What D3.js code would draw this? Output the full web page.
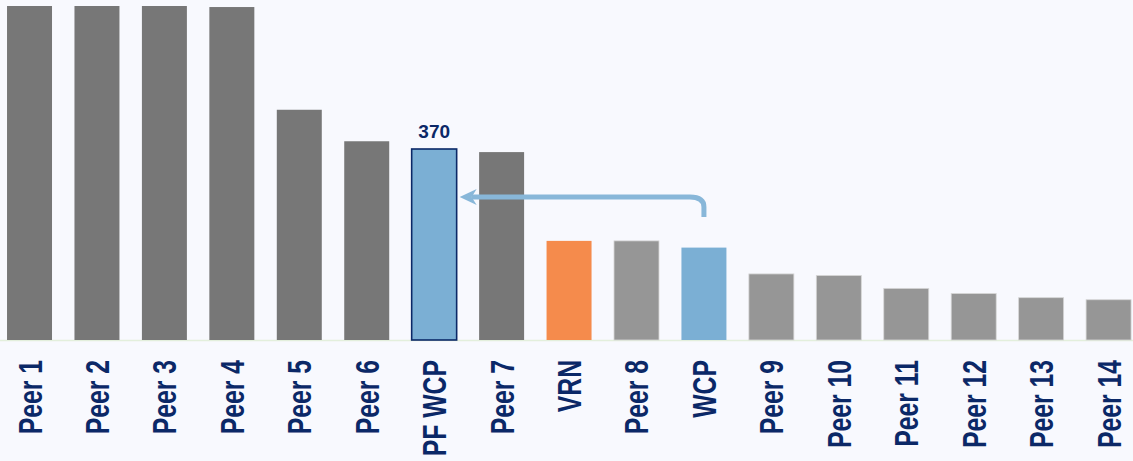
<!DOCTYPE html>
<html lang="en">
<head>
    <meta charset="UTF-8">
    <script src="https://d3js.org/d3.v7.min.js"></script>
    <style>
        body { margin: 0; background: #f8f9fe; }
        svg { display: block; }
    </style>
</head>
<body>
    <div id="chart"></div>
    <script>
        // data
        const categories = ["Peer 1", "Peer 2", "Peer 3", "Peer 4", "Peer 5", "Peer 6", "PF WCP", "Peer 7",
            "VRN", "Peer 8", "WCP", "Peer 9", "Peer 10", "Peer 11", "Peer 12", "Peer 13", "Peer 14"];
        const values = [647, 647, 647, 645, 446, 385, 370, 364, 192, 192, 179, 128, 125, 100, 90, 82, 78];
        const kinds = ["dark", "dark", "dark", "dark", "dark", "dark", "pf", "dark",
            "vrn", "light", "wcp", "light", "light", "light", "light", "light", "light"];
        const labelled = ["PF WCP"];

        const colors = { dark: "#777777", light: "#969696", pf: "#7bafd4", wcp: "#7bafd4", vrn: "#f58b4c" };
        const navy = "#0b2867";

        const width = 1133, height = 461;
        const baseY = 340;

        const svg = d3.select("#chart").append("svg")
            .attr("width", width)
            .attr("height", height);

        const x = d3.scaleBand()
            .domain(categories)
            .range([-4.2, 1142.3])
            .paddingInner(0.333)
            .paddingOuter(0.1665);

        const y = d3.scaleLinear()
            .domain([0, 370])
            .range([baseY, 149]);

        const data = categories.map((c, i) => ({ name: c, value: values[i], kind: kinds[i] }));

        // baseline
        svg.append("line")
            .attr("x1", 0).attr("x2", width)
            .attr("y1", baseY + 0.5).attr("y2", baseY + 0.5)
            .attr("stroke", "#e3efdc")
            .attr("stroke-width", 1.5);

        svg.selectAll("rect.bar")
            .data(data)
            .enter()
            .append("rect")
            .attr("class", "bar")
            .attr("x", d => x(d.name))
            .attr("y", d => y(d.value))
            .attr("width", x.bandwidth())
            .attr("height", d => baseY - y(d.value))
            .attr("fill", d => colors[d.kind])
            .attr("stroke", d => d.kind == "pf" ? navy : (d.kind == "light" ? "#d6d6d6" : "none"))
            .attr("stroke-width", d => d.kind == "pf" ? 1.6 : 0.8);

        // value label
        svg.selectAll("text.val")
            .data(data.filter(d => labelled.includes(d.name)))
            .enter()
            .append("text")
            .attr("class", "val")
            .attr("x", d => x(d.name) + x.bandwidth() / 2)
            .attr("y", d => y(d.value) - 11)
            .attr("text-anchor", "middle")
            .style("font-family", "'Liberation Sans', Arial, sans-serif")
            .style("font-weight", "bold")
            .style("font-size", "19px")
            .style("fill", navy)
            .text(d => d.value);

        // category labels, rotated
        svg.selectAll("text.cat")
            .data(data)
            .enter()
            .append("text")
            .attr("class", "cat")
            .attr("transform", d => "translate(" + (x(d.name) + x.bandwidth() / 2 + 12) + "," + 360 + ") rotate(-90) scale(0.75,1)")
            .attr("text-anchor", "end")
            .style("font-family", "'Liberation Sans', Arial, sans-serif")
            .style("font-weight", "bold")
            .style("font-size", "33px")
            .style("fill", navy)
            .text(d => d.name);

        // arrow from WCP to PF WCP
        const from = x("WCP") + x.bandwidth() / 2;
        const to = x("PF WCP") + x.bandwidth() + 3;
        const ay = 197;
        const arrowColor = "#88b7d9";
        svg.append("path")
            .attr("d", `M${from},217 L${from},${ay + 10} Q${from},${ay} ${from - 14},${ay} L${to + 12},${ay}`)
            .attr("fill", "none")
            .attr("stroke", arrowColor)
            .attr("stroke-width", 5);
        svg.append("path")
            .attr("d", `M${to},${ay} L${to + 17},${ay - 8} L${to + 12},${ay} L${to + 17},${ay + 8} Z`)
            .attr("fill", arrowColor);
    </script>
</body>
</html>
